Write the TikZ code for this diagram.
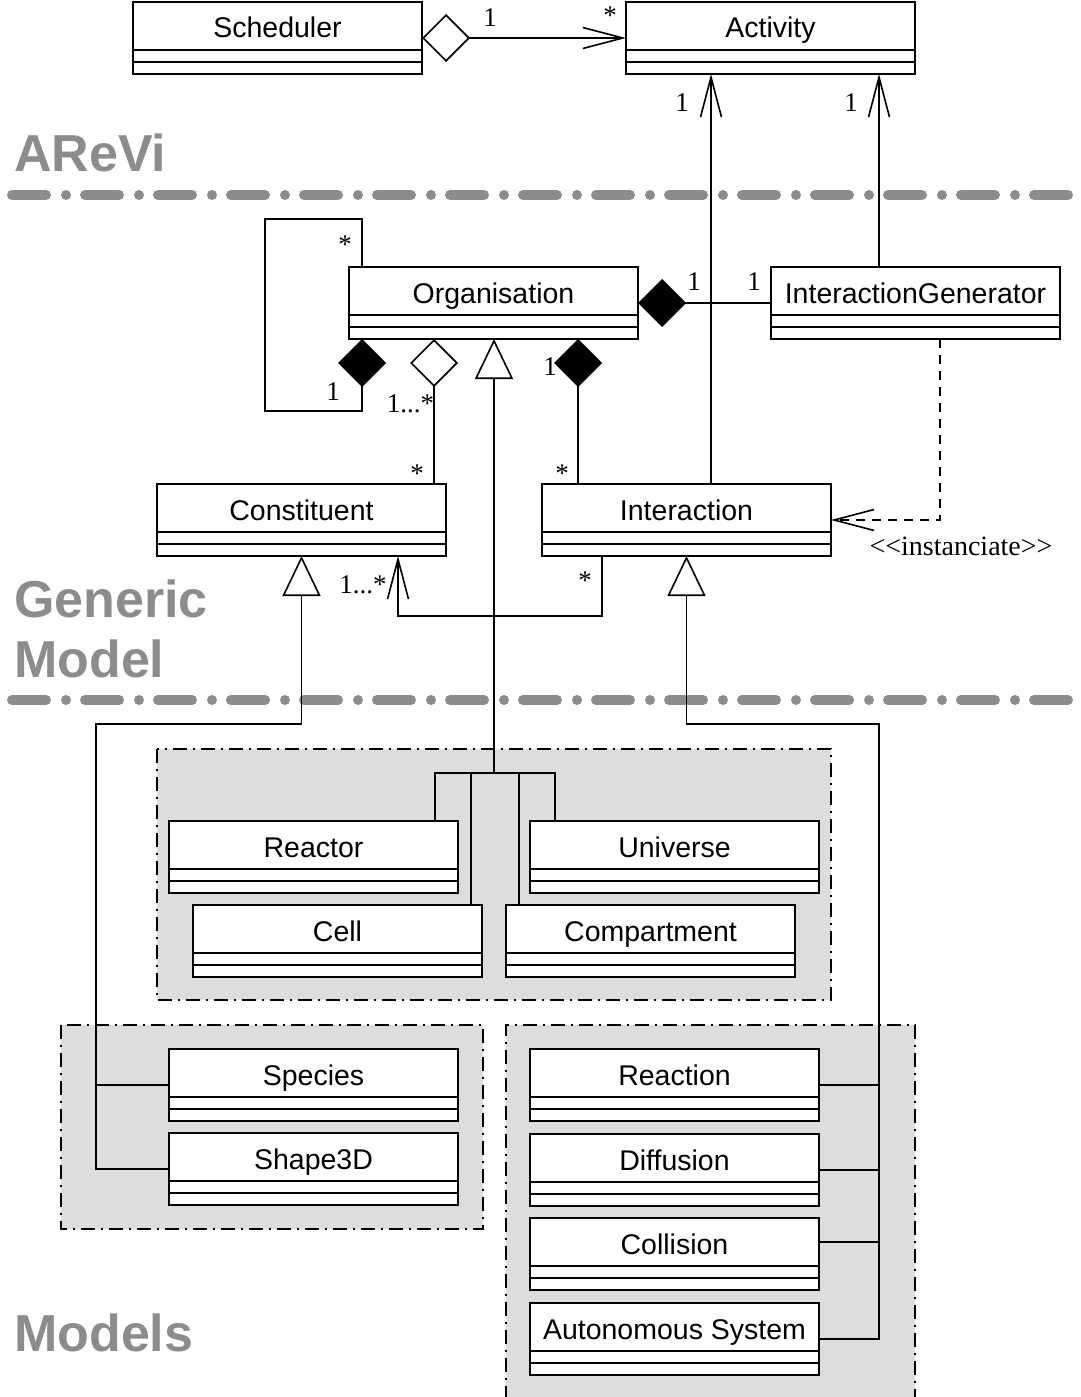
\documentclass[tikz,border=0pt]{standalone}
\usepackage{fontspec}
\setmainfont{Liberation Serif}
\setsansfont{Liberation Sans}
\usetikzlibrary{arrows.meta,calc}
\definecolor{sepgray}{HTML}{8C8C8C}
\definecolor{grpgray}{HTML}{DDDDDD}
\tikzset{
  clsbox/.style={draw, line width=1.8pt, fill=white, minimum width=289pt, minimum height=72pt, inner sep=0pt, outer sep=0pt},
  clstext/.style={font=\sffamily\fontsize{28.5}{34}\selectfont, inner sep=0pt},
  mult/.style={font=\rmfamily\fontsize{27}{30}\selectfont, inner sep=0pt},
  stereo/.style={font=\rmfamily\fontsize{28}{30}\selectfont, inner sep=0pt},
  layer/.style={font=\sffamily\bfseries\fontsize{52}{60}\selectfont, text=sepgray, inner sep=0pt, anchor=base west},
  sepline/.style={draw=sepgray, line width=10pt, line cap=round, dash pattern=on 34pt off 20pt on 0pt off 19pt},
  grp/.style={fill=grpgray},
  grpline/.style={draw=black, line width=1.4pt, dash pattern=on 14pt off 6pt on 2pt off 6pt},
  conn/.style={line width=1.6pt},
  barb/.tip={Straight Barb[length=40pt,width=21pt,line width=1.6pt]},
  odia/.tip={Diamond[open,fill=white,length=48pt,width=48pt,line width=1.6pt]},
  fdia/.tip={Diamond[length=48pt,width=48pt,line width=1.6pt]},
  otri/.tip={Triangle[open,fill=white,length=40pt,width=38pt,line width=1.6pt]},
  nav/.style={conn, -barb},
  gen/.style={conn, -otri},
  dep/.style={conn, dash pattern=on 9pt off 7pt, -barb},
}
\newcommand{\umlcls}[4]{%
  \node[clsbox, anchor=north west] (#1) at (#2,#3) {};
  \node[clstext, anchor=base] (#1-t) at ([yshift=-36pt]#1.north) {#4};
  \draw[line width=1.4pt] ([yshift=-48pt]#1.north west) -- ([yshift=-48pt]#1.north east);
  \draw[line width=1.4pt] ([yshift=-60pt]#1.north west) -- ([yshift=-60pt]#1.north east);
}
\begin{document}
\begin{tikzpicture}[x=1pt,y=-1pt]
\useasboundingbox (0,0) rectangle (1081,1397);
% groups
\fill[grp] (157,749) rectangle (831,1000);
\draw[grpline] (157,749) rectangle (831,1000);
\fill[grp] (61,1025) rectangle (483,1229);
\draw[grpline] (61,1025) rectangle (483,1229);
\fill[grp] (506,1025) rectangle (915,1397);
\draw[grpline] (506,1400) -- (506,1025) -- (915,1025) -- (915,1400);
% layer separators
\draw[sepline] (12,195) -- (1081,195);
\draw[sepline] (12,700) -- (1081,700);
\node[layer] (lA) at (14,171) {AReVi};
\node[layer] (lG) at (14,617) {Generic};
\node[layer] (lM) at (14,677) {Model};
\node[layer] (lMs) at (14,1351) {Models};
% classes
\umlcls{sched}{133}{2}{Scheduler}
\umlcls{act}{626}{2}{Activity}
\umlcls{org}{349}{267}{Organisation}
\umlcls{ig}{771}{267}{InteractionGenerator}
\umlcls{cons}{157}{484}{Constituent}
\umlcls{inter}{542}{484}{Interaction}
\umlcls{reactor}{169}{821}{Reactor}
\umlcls{universe}{530}{821}{Universe}
\umlcls{cell}{193}{905}{Cell}
\umlcls{compart}{506}{905}{Compartment}
\umlcls{species}{169}{1049}{Species}
\umlcls{shape}{169}{1133}{Shape3D}
\umlcls{reaction}{530}{1049}{Reaction}
\umlcls{diffusion}{530}{1134}{Diffusion}
\umlcls{collision}{530}{1218}{Collision}
\umlcls{auto}{530}{1303}{Autonomous System}
% helper coordinates
\coordinate (xa) at (711,0);
\coordinate (xb) at (879,0);
\coordinate (xs) at (362,0);
\coordinate (lt) at (265,219);
\coordinate (lb) at (265,411);
\coordinate (xc) at (434,0);
\coordinate (xd) at (578,0);
\coordinate (xe) at (940,0);
\coordinate (gbar) at (494,773);
\coordinate (b1) at (435,0);
\coordinate (b2) at (471,0);
\coordinate (b3) at (519,0);
\coordinate (b4) at (555,0);
\coordinate (a1) at (602,616);
\coordinate (a2) at (398,616);
\coordinate (cl) at (96,724);
\coordinate (ir) at (879,724);
% connectors
\draw[conn, odia-barb] (sched.east) -- (act.west);
\draw[nav] (inter.north -| xa) -- (act.south -| xa);
\draw[nav] (ig.north -| xb) -- (act.south -| xb);
\draw[conn, fdia-] (org.east) -- (ig.west);
\draw[conn, -fdia] (org.north -| xs) |- (lt) -- (lb) -| (org.south -| xs);
\draw[conn, -odia] (cons.north -| xc) -- (org.south -| xc);
\draw[conn, -fdia] (inter.north -| xd) -- (org.south -| xd);
\draw[gen] (gbar) -- (org.south -| gbar);
\draw[conn] (reactor.north -| b1) |- (gbar);
\draw[conn] (cell.north -| b2) |- (gbar);
\draw[conn] (compart.north -| b3) |- (gbar);
\draw[conn] (universe.north -| b4) |- (gbar);
\draw[dep] (ig.south -| xe) |- (inter.east);
\draw[nav] (inter.south -| a1) -- (a1) -- (a2) -- (cons.south -| a2);
\draw[gen] (shape.west) -| (cl) -- (cons.south |- cl) -- (cons.south);
\draw[conn] (species.west) -- (species.west -| cl);
\draw[gen] (auto.east) -| (ir) -- (inter.south |- ir) -- (inter.south);
\draw[conn] (reaction.east) -- (reaction.east -| ir);
\draw[conn] (diffusion.east) -- (diffusion.east -| ir);
\draw[conn] ([yshift=12pt]collision.east) -- ([yshift=12pt]collision.east -| ir);
% multiplicities
\node[mult] (m1) at (490,18) {1};
\node[mult] (m2) at (610,16) {*};
\node[mult] (m3) at (682,103) {1};
\node[mult] (m4) at (851,103) {1};
\node[mult] (m5) at (345,245) {*};
\node[mult] (m6) at (333,392) {1};
\node[mult, anchor=base] (m7) at (410.5,412) {1...*};
\node[mult] (m8) at (417,474) {*};
\node[mult] (m9) at (550,367) {1};
\node[mult] (m10) at (562,474) {*};
\node[mult] (m11) at (694,282) {1};
\node[mult] (m12) at (754,282) {1};
\node[mult, anchor=base] (m13) at (363,593) {1...*};
\node[mult] (m14) at (585,581) {*};
\node[stereo, anchor=base] (st) at (961,555) {<{}<instanciate>{}>};
\end{tikzpicture}
\end{document}
